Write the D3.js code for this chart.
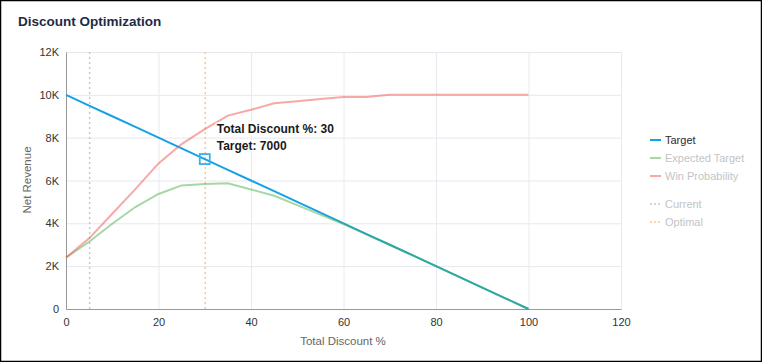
<!DOCTYPE html>
<html><head><meta charset="utf-8">
<script src="https://cdn.jsdelivr.net/npm/d3@7/dist/d3.min.js"></script>
<style>
html,body{margin:0;padding:0;background:#fff;}
svg{display:block;font-family:"Liberation Sans",Arial,sans-serif;}
</style></head>
<body>
<svg id="c" width="762" height="362"></svg>
<script>
const discounts = [0,5,10,15,20,25,30,35,40,45,50,55,60,65,70,75,80,85,90,95,100];
const target = [10000,9500,9000,8500,8000,7500,7000,6500,6000,5500,5000,4500,4000,3500,3000,2500,2000,1500,1000,500,0];
const winProbability = [2400,3300,4450,5600,6800,7700,8400,9030,9300,9610,9700,9800,9900,9900,10000,10000,10000,10000,10000,10000,10000];
const expectedTarget = [2400,3140,3980,4760,5370,5770,5840,5870,5580,5290,4850,4410,3960,3470,3000,2500,2000,1500,1000,500,0];
const xTicks = [0,20,40,60,80,100,120];
const yTicks = [0,2000,4000,6000,8000,10000,12000];
const yTickLabels = ["0","2K","4K","6K","8K","10K","12K"];
const markers = [{name:"Current", value:5},{name:"Optimal", value:30}];
const tooltip = {discount:30, target:7000};
const legendItems = ["Target","Expected Target","Win Probability","Current","Optimal"];

const svg = d3.select("#c");
svg.append("rect").attr("x",0.5).attr("y",0.5).attr("width",761).attr("height",361)
  .attr("fill","#fff").attr("stroke","#000").attr("stroke-width",1.5);

svg.append("text").attr("x",18).attr("y",26).text("Discount Optimization")
  .attr("font-size",13.5).attr("font-weight","bold").attr("fill","#1f2a44");

const x = d3.scaleLinear().domain([0,120]).range([66,621]);
const y = d3.scaleLinear().domain([0,12000]).range([309,52]);

// gridlines
svg.append("g").selectAll("line").data(yTicks.slice(1)).join("line")
  .attr("x1",66).attr("x2",621).attr("y1",d=>y(d)+0.5).attr("y2",d=>y(d)+0.5)
  .attr("stroke","#e8e8ec").attr("stroke-width",1);
svg.append("g").selectAll("line").data(xTicks.slice(1)).join("line")
  .attr("y1",52).attr("y2",309).attr("x1",d=>x(d)+0.5).attr("x2",d=>x(d)+0.5)
  .attr("stroke","#e6ebf2").attr("stroke-width",1);

// axes
const xAxis = d3.axisBottom(x).tickValues(xTicks).tickSize(0).tickPadding(9);
const gx = svg.append("g").attr("transform","translate(0,309)").call(xAxis);
gx.select(".domain").attr("stroke","#999");
gx.selectAll("text").attr("font-size",11).attr("fill","#333").attr("font-family","Liberation Sans, Arial, sans-serif");

const yAxis = d3.axisLeft(y).tickValues(yTicks).tickSize(0).tickPadding(7).tickFormat((d,i)=>yTickLabels[i]);
const gy = svg.append("g").attr("transform","translate(66,0)").call(yAxis);
gy.select(".domain").attr("stroke","#999");
gy.selectAll("text").attr("font-size",11).attr("fill","#333").attr("font-family","Liberation Sans, Arial, sans-serif");

svg.append("text").attr("x",343).attr("y",345).attr("text-anchor","middle")
  .attr("font-size",11.5).attr("fill","#666").text("Total Discount %");
svg.append("text").attr("transform","translate(31,180) rotate(-90)").attr("text-anchor","middle")
  .attr("font-size",11.5).attr("fill","#666").text("Net Revenue");

// marker lines
const markerColors = {"Current":"#c8c8c8","Optimal":"#fdc58a"};
svg.append("g").selectAll("line").data(markers).join("line")
  .attr("x1",d=>x(d.value)+0.5).attr("x2",d=>x(d.value)+0.5).attr("y1",52).attr("y2",309)
  .attr("stroke",d=>markerColors[d.name]).attr("stroke-width",1.5).attr("stroke-dasharray","2,3");

const line = d3.line().x(d=>x(d[0])).y(d=>y(d[1]));
const pts = arr => discounts.map((d,i)=>[d,arr[i]]);

svg.append("path").attr("d",line(pts(target))).attr("fill","none")
  .attr("stroke","#16a1e6").attr("stroke-width",2);
svg.append("path").attr("d",line(pts(expectedTarget))).attr("fill","none")
  .attr("stroke","rgb(76,175,80)").attr("stroke-opacity",0.5).attr("stroke-width",2);
svg.append("path").attr("d",line(pts(winProbability))).attr("fill","none")
  .attr("stroke","rgb(239,83,80)").attr("stroke-opacity",0.5).attr("stroke-width",2);

// tooltip marker
svg.append("rect").attr("x",x(tooltip.discount)-5).attr("y",y(tooltip.target)-5)
  .attr("width",10).attr("height",10).attr("fill","none")
  .attr("stroke","#3ab1ea").attr("stroke-width",1.8);
const tt = svg.append("g").attr("font-size",12).attr("font-weight","bold").attr("fill","#1a1a1a");
[["Total Discount %: "+tooltip.discount, 133],["Target: "+tooltip.target, 150]].forEach(([t,yy])=>{
  tt.append("text").attr("x",x(tooltip.discount)+12).attr("y",yy).text(t)
    .attr("stroke","#fff").attr("stroke-width",3).attr("stroke-linejoin","round").attr("paint-order","stroke");
});

// legend
const legendColors = ["#16a1e6","rgba(76,175,80,0.5)","rgba(239,83,80,0.5)","#c8c8c8","#fdc58a"];
const legendY = [140,158,176,204,222];
const lg = svg.append("g");
legendItems.forEach((name,i)=>{
  const dashed = i>=3;
  lg.append("line").attr("x1",650).attr("x2",661).attr("y1",legendY[i]).attr("y2",legendY[i])
    .attr("stroke",legendColors[i]).attr("stroke-width",dashed?1.5:2)
    .attr("stroke-dasharray",dashed?"2,2":null);
  lg.append("text").attr("x",665).attr("y",legendY[i]+4).text(name)
    .attr("font-size",11).attr("fill",i===0?"#2a2a3a":"#c4c4c4");
});
</script>
</body></html>
